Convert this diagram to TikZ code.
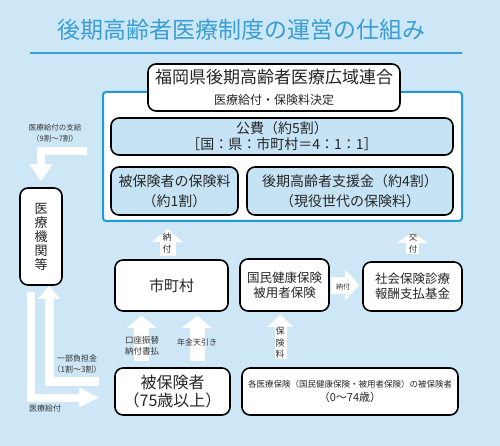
\documentclass[tikz,border=0pt]{standalone}
\usepackage{fontspec}
\setmainfont{Noto Sans CJK JP}
\usepackage{tikz}
\usetikzlibrary{calc, positioning, arrows.meta}
\definecolor{bgblue}{HTML}{CDE7F7}
\definecolor{boxblue}{HTML}{C6E3F6}
\definecolor{frameblue}{HTML}{1E9BD7}
\definecolor{titleblue}{HTML}{3A9ED4}
\newcommand{\fsz}[2]{\fontsize{#1}{#2}\selectfont}
\tikzset{
	box/.style={draw=black, line width=1.6pt, rounded corners=8pt, fill=white,
		align=center, inner sep=0pt, text=black!85},
	bluebox/.style={box, fill=boxblue},
	lbl/.style={inner sep=0pt, align=center, text=black!80, font=\fsz{8pt}{10pt}},
	flow/.style n args={3}{draw=white, line width=#1, -{Triangle[width=#2, length=#3]}}
}

\begin{document}
\begin{tikzpicture}[x=1pt, y=-1pt, line join=miter]

\fill[bgblue] (0,0) rectangle (500,446);
\useasboundingbox (0,0) rectangle (500,446);

\node[font=\fsz{23pt}{26pt}, text=titleblue] (title) at (241,30) {後期高齢者医療制度の運営の仕組み};
\draw[titleblue, line width=2pt] (30,53) -- (462,53);

% union
\node[draw=frameblue, line width=2pt, fill=white, rounded corners=3pt,
	minimum width=359pt, minimum height=129pt] (union) at (282.5,156.5) {};
\node[box, minimum width=252pt, minimum height=47pt, font=\fsz{17pt}{20pt}] (head) at (274,87.5)
	{福岡県後期高齢者医療広域連合\\[1pt]\fsz{12pt}{14pt}医療給付・保険料決定};
\node[bluebox, minimum width=342pt, minimum height=37pt, font=\fsz{14pt}{16pt}] (public) at (282,136.5)
	{公費（約5割）\\［国：県：市町村＝4：1：1］};
\node[bluebox, minimum width=127pt, minimum height=48pt, font=\fsz{14pt}{20pt}] (premium) at (174.5,191)
	{被保険者の保険料\\（約1割）};
\node[bluebox, minimum width=206pt, minimum height=48pt, font=\fsz{14pt}{20pt}] (support) at (350,191)
	{後期高齢者支援金（約4割）\\（現役世代の保険料）};

\node[box, minimum width=42pt, minimum height=97pt, font=\fsz{13pt}{14pt}] (hosp) at (41,236.5)
	{医\\療\\機\\関\\等};
\node[box, minimum width=113pt, minimum height=51pt, font=\fsz{15pt}{18pt}] (city) at (171.5,285.5)
	{市町村};
\node[box, minimum width=89pt, minimum height=52pt, font=\fsz{12.5pt}{15pt}] (kokuho) at (284.5,285)
	{国民健康保険\\被用者保険};
\node[box, minimum width=99pt, minimum height=49pt, font=\fsz{12.5pt}{15.5pt}] (fund) at (412.5,286.5)
	{社会保険診療\\報酬支払基金};
\node[box, minimum width=115pt, minimum height=47pt, font=\fsz{16pt}{18pt}] (insured) at (172.5,391.5)
	{被保険者\\（75歳以上）};
\node[box, minimum width=216pt, minimum height=47pt, font=\fsz{8.5pt}{14pt}] (others) at (350,391.5)
	{各医療保険（国民健康保険・被用者保険）の被保険者\\\fsz{11pt}{14pt}（0～74歳）};

% flows
\coordinate (give) at ([xshift=-15pt,yshift=5pt]union.west);
\coordinate (copay) at ([xshift=-15pt,yshift=10pt]insured.west);
\coordinate (benefit) at ([xshift=-15pt,yshift=-6pt]insured.west);

\draw[flow={8pt}{22pt}{17pt}] (give) -| ([yshift=6pt]hosp.north);
\draw[flow={9pt}{21pt}{13pt}] (copay) -| ([xshift=8pt]hosp.south);
\draw[flow={8pt}{18pt}{20pt}] ([xshift=-10pt,yshift=-6pt]hosp.south) |- (benefit);

\draw[flow={16pt}{30pt}{13pt}, shorten <=3pt, shorten >=7pt]
	([xshift=-4pt]city.north) -- ([xshift=-4pt]city.north |- union.south);
\draw[flow={13pt}{30pt}{11pt}, shorten <=7pt, shorten >=10pt]
	(fund.north) -- (fund.north |- union.south);
\draw[flow={17pt}{30pt}{14pt}, shorten <=1pt, shorten >=3pt]
	(kokuho.east) -- (kokuho.east -| fund.west);
\draw[flow={12pt}{25pt}{12pt}, shorten <=8pt, shorten >=3pt]
	([xshift=-4pt]kokuho.south |- others.north) -- ([xshift=-4pt]kokuho.south);
\draw[flow={15pt}{29pt}{12pt}, shorten <=6pt, shorten >=4pt]
	([xshift=-30pt]city.south |- insured.north) -- ([xshift=-30pt]city.south);
\draw[flow={15pt}{29pt}{12pt}, shorten <=6pt, shorten >=4pt]
	([xshift=25.5pt]city.south |- insured.north) -- ([xshift=25.5pt]city.south);

% labels
\node[lbl, font=\fsz{7.5pt}{11pt}] (givelbl) at (55,133) {医療給付の支給\\（9割～7割）};
\node[lbl, font=\fsz{8pt}{11pt}] (copaylbl) at (77,364.5) {一部負担金\\（1割～3割）};
\node[lbl] (benefitlbl) at (45,408) {医療給付};
\node[lbl, font=\fsz{8.5pt}{11pt}] (pay1lbl) at (142,345.5) {口座振替\\納付書払};
\node[lbl] (pay2lbl) at (197,342) {年金天引き};
\node[lbl, font=\fsz{9pt}{11.5pt}] (feelbl) at (280,343) {保\\険\\料};
\node[lbl, font=\fsz{7pt}{9pt}] (pay3lbl) at (343,287) {納付};
\node[lbl, font=\fsz{9pt}{12pt}] (pay4lbl) at (167,243.5) {納\\付};
\node[lbl, font=\fsz{8.5pt}{12pt}] (grantlbl) at (413,243) {交\\付};

\end{tikzpicture}
\end{document}
